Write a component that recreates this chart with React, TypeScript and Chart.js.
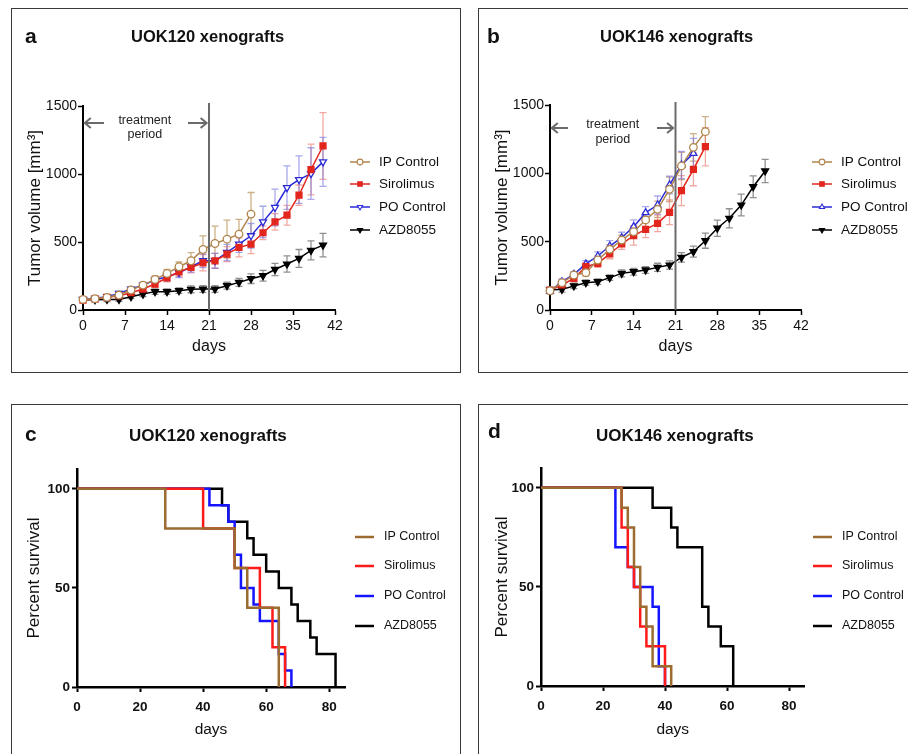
import React, { useEffect, useRef } from 'react';
import { Chart, registerables } from 'chart.js';
import { drawPoint } from 'chart.js/helpers';

Chart.register(...registerables);

const FONT = "'Liberation Sans', Arial, sans-serif";

// ---------- shared labels / ticks ----------
const seriesNames = ['IP Control', 'Sirolimus', 'PO Control', 'AZD8055'];
const growthXTicks = [0, 7, 14, 21, 28, 35, 42];
const growthYTicks = [0, 500, 1000, 1500];
const survXTicks = [0, 20, 40, 60, 80];
const survYTicks = [0, 50, 100];

// ---------- panel a : UOK120 tumour growth ----------
const aIpDays = [0, 2, 4, 6, 8, 10, 12, 14, 16, 18, 20, 22, 24, 26, 28];
const aIpVol = [78, 83, 93, 110, 147, 183, 225, 269, 318, 362, 445, 489, 521, 558, 705];
const aIpErr = [10, 10, 12, 15, 18, 20, 25, 30, 35, 60, 100, 128, 140, 108, 159];

const aSiroDays = [0, 2, 4, 6, 8, 10, 12, 14, 16, 18, 20, 22, 24, 26, 28, 30, 32, 34, 36, 38, 40];
const aSiroVol = [73, 81, 93, 105, 127, 154, 191, 237, 281, 313, 347, 362, 411, 460, 484, 568, 648, 697, 844, 1033, 1206];
const aSiroErr = [10, 10, 12, 15, 18, 20, 25, 30, 35, 40, 60, 55, 55, 70, 70, 50, 60, 73, 75, 186, 245];

const aPoDays = [0, 2, 4, 6, 8, 10, 12, 14, 16, 18, 20, 22, 24, 26, 28, 30, 32, 34, 36, 38, 40];
const aPoVol = [78, 86, 98, 122, 154, 183, 220, 245, 274, 318, 362, 362, 423, 484, 546, 648, 754, 900, 959, 1003, 1089];
const aPoErr = [10, 10, 12, 15, 18, 20, 25, 30, 35, 40, 50, 55, 60, 60, 90, 115, 135, 160, 175, 190, 180];

const aAzdDays = [0, 2, 4, 6, 8, 10, 12, 14, 16, 18, 20, 22, 24, 26, 28, 30, 32, 34, 36, 38, 40];
const aAzdVol = [75, 75, 77, 78, 98, 117, 135, 135, 142, 152, 154, 154, 179, 203, 230, 252, 298, 338, 379, 438, 477];
const aAzdErr = [15, 15, 15, 15, 15, 18, 20, 20, 20, 25, 25, 25, 25, 30, 35, 40, 45, 60, 66, 70, 86];

// ---------- panel b : UOK146 tumour growth ----------
const bIpDays = [0, 2, 4, 6, 8, 10, 12, 14, 16, 18, 20, 22, 24, 26];
const bIpVol = [141, 200, 256, 273, 366, 444, 512, 573, 659, 737, 883, 1054, 1190, 1305];
const bIpErr = [20, 20, 20, 25, 30, 35, 35, 40, 50, 60, 90, 100, 100, 110];

const bSiroDays = [0, 2, 4, 6, 8, 10, 12, 14, 16, 18, 20, 22, 24, 26];
const bSiroVol = [146, 183, 232, 317, 342, 410, 483, 544, 590, 634, 715, 873, 1029, 1195];
const bSiroErr = [20, 20, 25, 30, 30, 35, 40, 70, 60, 60, 90, 110, 120, 140];

const bPoDays = [0, 2, 4, 6, 8, 10, 12, 14, 16, 18, 20, 22, 24];
const bPoVol = [139, 207, 261, 337, 395, 468, 529, 610, 712, 768, 915, 1061, 1146];
const bPoErr = [20, 20, 20, 25, 30, 40, 40, 50, 45, 66, 65, 100, 110];

const bAzdDays = [0, 2, 4, 6, 8, 10, 12, 14, 16, 18, 20, 22, 24, 26, 28, 30, 32, 34, 36];
const bAzdVol = [146, 151, 176, 200, 207, 237, 268, 280, 293, 312, 329, 385, 427, 507, 598, 671, 768, 902, 1017];
const bAzdErr = [20, 20, 20, 20, 20, 20, 25, 25, 25, 30, 30, 35, 40, 55, 60, 70, 80, 80, 85];

// ---------- panel c : UOK120 survival ----------
const cIpT = [0, 28, 50, 54, 64];
const cIpS = [100, 80, 60, 40, 0];
const cSiroT = [0, 40, 50, 58, 62, 66];
const cSiroS = [100, 80, 60, 40, 20, 0];
const cPoT = [0, 42, 48, 50, 52, 56, 58, 64, 66, 68];
const cPoS = [100, 91.67, 83.33, 66.67, 50, 41.67, 33.33, 16.67, 8.33, 0];
const cAzdT = [0, 46, 48, 54, 56, 60, 64, 68, 70, 74, 76, 82];
const cAzdS = [100, 91.67, 83.33, 75, 66.67, 58.33, 50, 41.67, 33.33, 25, 16.67, 0];

// ---------- panel d : UOK146 survival ----------
const dIpT = [0, 26, 28, 30, 32, 34, 36, 42];
const dIpS = [100, 90, 80, 60, 40, 30, 10, 0];
const dSiroT = [0, 26, 28, 30, 32, 34, 40];
const dSiroS = [100, 80, 60, 50, 30, 20, 0];
const dPoT = [0, 24, 28, 30, 36, 38, 40];
const dPoS = [100, 70, 60, 50, 40, 10, 0];
const dAzdT = [0, 36, 42, 44, 52, 54, 58, 62];
const dAzdS = [100, 90, 80, 70, 40, 30, 20, 0];

// ---------- styles ----------
const GROWTH_COLORS = ['#b0844c', '#e2261d', '#2a2ad6', '#000000'];
const ERR_COLORS = ['rgba(190,150,95,0.75)', 'rgba(232,110,100,0.6)', 'rgba(110,110,225,0.6)', 'rgba(70,70,70,0.6)'];
const SURV_COLORS = ['#9c6b30', '#ff1a1a', '#1414ff', '#000000'];

const pts = (xs: number[], ys: number[]) => xs.map((x, i) => ({ x, y: ys[i] }));
const plain = (v: any) => String(v);

type Box = { W: number; H: number; L: number; R: number; T: number; B: number; yTitleX: number; xTitleY: number };

function frame(box: Box, yTitleSize: number, xTitleSize: number) {
  const ylh = yTitleSize * 1.2;
  const xlh = xTitleSize * 1.2;
  const padLeft = box.yTitleX - ylh / 2;
  const xBottom = box.xTitleY + xlh / 2;
  return {
    padding: { left: padLeft, top: box.T, right: box.W - box.R, bottom: box.H - xBottom },
    yWidth: box.L - padLeft,
    xHeight: xBottom - box.B,
  };
}

function errorBarPlugin(errs: number[][]) {
  return {
    id: 'errorBars',
    beforeDatasetsDraw(chart: any) {
      const ctx = chart.ctx;
      const ys = chart.scales.y;
      chart.data.datasets.forEach((ds: any, i: number) => {
        const e = errs[i];
        const meta = chart.getDatasetMeta(i);
        ctx.save();
        ctx.strokeStyle = ERR_COLORS[i];
        ctx.lineWidth = 1.3;
        meta.data.forEach((pt: any, j: number) => {
          const v = ds.data[j].y;
          const yt = ys.getPixelForValue(v + e[j]);
          const yb = ys.getPixelForValue(Math.max(0, v - e[j]));
          ctx.beginPath();
          ctx.moveTo(pt.x, yt); ctx.lineTo(pt.x, yb);
          ctx.moveTo(pt.x - 3.5, yt); ctx.lineTo(pt.x + 3.5, yt);
          ctx.moveTo(pt.x - 3.5, yb); ctx.lineTo(pt.x + 3.5, yb);
          ctx.stroke();
        });
        ctx.restore();
      });
    },
  };
}

type Treat = { lineDay: number; arrowY: number; left: [number, number]; right: [number, number]; textDay: number; t1: number; t2: number };

function treatmentPlugin(o: Treat) {
  return {
    id: 'treatment',
    afterDatasetsDraw(chart: any) {
      const { ctx, chartArea } = chart;
      const xs = chart.scales.x, ys = chart.scales.y;
      ctx.save();
      ctx.strokeStyle = '#6a6a6a';
      ctx.lineWidth = 2;
      const lx = xs.getPixelForValue(o.lineDay);
      ctx.beginPath();
      ctx.moveTo(lx, chartArea.top - 3);
      ctx.lineTo(lx, chartArea.bottom);
      ctx.stroke();
      const ay = ys.getPixelForValue(o.arrowY);
      const arrow = (from: number, to: number) => {
        const x0 = xs.getPixelForValue(from), x1 = xs.getPixelForValue(to);
        const d = Math.sign(x1 - x0);
        ctx.beginPath();
        ctx.moveTo(x0, ay); ctx.lineTo(x1, ay);
        ctx.moveTo(x1 - d * 6, ay - 5); ctx.lineTo(x1, ay); ctx.lineTo(x1 - d * 6, ay + 5);
        ctx.stroke();
      };
      arrow(o.left[0], o.left[1]);
      arrow(o.right[0], o.right[1]);
      ctx.fillStyle = '#222';
      ctx.font = `12.5px ${FONT}`;
      ctx.textAlign = 'center';
      ctx.textBaseline = 'middle';
      const tx = xs.getPixelForValue(o.textDay);
      ctx.fillText('treatment', tx, ys.getPixelForValue(o.t1));
      ctx.fillText('period', tx, ys.getPixelForValue(o.t2));
      ctx.restore();
    },
  };
}

type Leg = { x0: number; x1: number; tx: number; rows: number[]; font: string; lineWidth: number; markers: boolean };

function legendPlugin(o: Leg) {
  return {
    id: 'sideLegend',
    afterDraw(chart: any) {
      const ctx = chart.ctx;
      chart.data.datasets.forEach((ds: any, i: number) => {
        const y = o.rows[i];
        ctx.save();
        ctx.strokeStyle = ds.borderColor;
        ctx.lineWidth = o.lineWidth;
        ctx.beginPath();
        ctx.moveTo(o.x0, y); ctx.lineTo(o.x1, y);
        ctx.stroke();
        if (o.markers) {
          ctx.fillStyle = ds.pointBackgroundColor;
          ctx.strokeStyle = ds.pointBorderColor;
          ctx.lineWidth = 1.1;
          drawPoint(ctx, { pointStyle: ds.pointStyle, rotation: ds.pointRotation || 0, radius: ds.pointRadius * 0.75, borderWidth: 1.1 } as any, (o.x0 + o.x1) / 2, y);
        }
        ctx.fillStyle = '#111';
        ctx.font = o.font;
        ctx.textAlign = 'left';
        ctx.textBaseline = 'middle';
        ctx.fillText(ds.label, o.tx, y);
        ctx.restore();
      });
    },
  };
}

function growthConfig(box: Box, series: { days: number[]; vol: number[] }[], errs: number[][], poUp: boolean, treat: Treat, leg: Leg) {
  const f = frame(box, 17, 16);
  const markers = [
    { pointStyle: 'circle', pointRadius: 3.8, pointRotation: 0, fill: '#ffffff' },
    { pointStyle: 'rect', pointRadius: 4.2, pointRotation: 0, fill: GROWTH_COLORS[1] },
    { pointStyle: 'triangle', pointRadius: 4, pointRotation: poUp ? 0 : 180, fill: '#ffffff' },
    { pointStyle: 'triangle', pointRadius: 4, pointRotation: 180, fill: '#000000' },
  ];
  return {
    type: 'line',
    data: {
      datasets: series.map((s, i) => ({
        label: seriesNames[i],
        data: pts(s.days, s.vol),
        borderColor: GROWTH_COLORS[i],
        borderWidth: 1.5,
        pointStyle: markers[i].pointStyle,
        pointRadius: markers[i].pointRadius,
        pointRotation: markers[i].pointRotation,
        pointBackgroundColor: markers[i].fill,
        pointBorderColor: GROWTH_COLORS[i],
        pointBorderWidth: 1.3,
        tension: 0,
        clip: false,
      })),
    },
    options: {
      animation: false,
      responsive: false,
      devicePixelRatio: 1,
      layout: { padding: f.padding },
      plugins: { legend: { display: false }, tooltip: { enabled: false } },
      scales: {
        x: {
          type: 'linear', min: 0, max: 42,
          afterBuildTicks: (ax: any) => { ax.ticks = growthXTicks.map((v) => ({ value: v })); },
          afterFit: (ax: any) => { ax.height = f.xHeight; },
          grid: { display: true, drawOnChartArea: false, drawTicks: true, tickLength: 5, tickWidth: 1.5, tickColor: '#000' },
          border: { display: true, color: '#000', width: 2 },
          ticks: { color: '#111', font: { family: FONT, size: 14 }, padding: 3, maxRotation: 0, autoSkip: false, callback: plain },
          title: { display: true, text: 'days', color: '#111', font: { family: FONT, size: 16 }, padding: 0 },
        },
        y: {
          type: 'linear', min: 0, max: 1500,
          afterBuildTicks: (ax: any) => { ax.ticks = growthYTicks.map((v) => ({ value: v })); },
          afterFit: (ax: any) => { ax.width = f.yWidth; },
          grid: { display: true, drawOnChartArea: false, drawTicks: true, tickLength: 5, tickWidth: 1.5, tickColor: '#000' },
          border: { display: true, color: '#000', width: 2 },
          ticks: { color: '#111', font: { family: FONT, size: 14 }, padding: 1, callback: plain },
          title: { display: true, text: 'Tumor volume [mm³]', color: '#111', font: { family: FONT, size: 17 }, padding: 0 },
        },
      },
    },
    plugins: [errorBarPlugin(errs), treatmentPlugin(treat), legendPlugin(leg)],
  };
}

function survivalConfig(box: Box, series: { t: number[]; s: number[] }[], leg: Leg) {
  const f = frame(box, 17, 15.5);
  return {
    type: 'line',
    data: {
      datasets: series.map((s, i) => ({
        label: seriesNames[i],
        data: pts(s.t, s.s),
        borderColor: SURV_COLORS[i],
        borderWidth: 2.5,
        pointRadius: 0,
        stepped: 'before',
        borderJoinStyle: 'miter',
        clip: false,
      })),
    },
    options: {
      animation: false,
      responsive: false,
      devicePixelRatio: 1,
      layout: { padding: f.padding },
      plugins: { legend: { display: false }, tooltip: { enabled: false } },
      scales: {
        x: {
          type: 'linear', min: 0, max: 85,
          afterBuildTicks: (ax: any) => { ax.ticks = survXTicks.map((v) => ({ value: v })); },
          afterFit: (ax: any) => { ax.height = f.xHeight; },
          grid: { display: true, drawOnChartArea: false, drawTicks: true, tickLength: 5, tickWidth: 2, tickColor: '#000' },
          border: { display: true, color: '#000', width: 2.5 },
          ticks: { color: '#111', font: { family: FONT, size: 13.5, weight: 'bold' }, padding: 7, maxRotation: 0, autoSkip: false, callback: plain },
          title: { display: true, text: 'days', color: '#111', font: { family: FONT, size: 15.5 }, padding: 0 },
        },
        y: {
          type: 'linear', min: 0, max: 110,
          afterBuildTicks: (ax: any) => { ax.ticks = survYTicks.map((v) => ({ value: v })); },
          afterFit: (ax: any) => { ax.width = f.yWidth; },
          grid: { display: true, drawOnChartArea: false, drawTicks: true, tickLength: 5, tickWidth: 2, tickColor: '#000' },
          border: { display: true, color: '#000', width: 2.5 },
          ticks: { color: '#111', font: { family: FONT, size: 13.5, weight: 'bold' }, padding: 2, callback: plain },
          title: { display: true, text: 'Percent survival', color: '#111', font: { family: FONT, size: 17 }, padding: 0 },
        },
      },
    },
    plugins: [legendPlugin(leg)],
  };
}

function ChartCanvas({ left, top, width, height, make }: { left: number; top: number; width: number; height: number; make: () => any }) {
  const ref = useRef<HTMLCanvasElement>(null);
  useEffect(() => {
    const chart = new Chart(ref.current as HTMLCanvasElement, make());
    return () => chart.destroy();
  }, []);
  return <canvas ref={ref} width={width} height={height} style={{ position: 'absolute', left, top, width, height }} />;
}

const boxStyle = (left: number, top: number, width: number, height: number): React.CSSProperties => ({
  position: 'absolute', left, top, width, height, border: '1px solid #3a3a3a', boxSizing: 'content-box',
});

const textStyle = (left: number, baseline: number, size: number): React.CSSProperties => ({
  position: 'absolute', left, top: baseline - 0.8465 * size, fontFamily: FONT, fontWeight: 700,
  fontSize: size, lineHeight: 1, whiteSpace: 'nowrap', color: '#111',
});

export default function App() {
  const boxA: Box = { W: 448, H: 363, L: 71, R: 323, T: 97, B: 301, yTitleX: 23, xTitleY: 338 };
  const boxB: Box = { W: 429, H: 363, L: 71, R: 322, T: 96, B: 301, yTitleX: 23, xTitleY: 338 };
  const boxC: Box = { W: 448, H: 349, L: 65, R: 333, T: 64, B: 282, yTitleX: 22, xTitleY: 325 };
  const boxD: Box = { W: 429, H: 349, L: 62, R: 325.5, T: 63, B: 281, yTitleX: 23, xTitleY: 325 };

  const legAB = (x0: number): Leg => ({ x0, x1: x0 + 20, tx: x0 + 29, rows: [153, 175, 198, 221], font: `13.5px ${FONT}`, lineWidth: 1.5, markers: true });
  const legCD = (x0: number): Leg => ({ x0, x1: x0 + 19, tx: x0 + 29, rows: [132, 161, 191, 221], font: `12.5px ${FONT}`, lineWidth: 2.5, markers: false });

  return (
    <div style={{ position: 'absolute', left: 0, top: 0, width: 908, height: 754, overflow: 'hidden', background: '#fff' }}>
      <div style={boxStyle(11, 8, 448, 363)} />
      <div style={boxStyle(478, 8, 500, 363)} />
      <div style={boxStyle(11, 404, 448, 400)} />
      <div style={boxStyle(478, 404, 500, 400)} />

      <ChartCanvas left={12} top={9} width={448} height={363} make={() => growthConfig(
        boxA,
        [{ days: aIpDays, vol: aIpVol }, { days: aSiroDays, vol: aSiroVol }, { days: aPoDays, vol: aPoVol }, { days: aAzdDays, vol: aAzdVol }],
        [aIpErr, aSiroErr, aPoErr, aAzdErr], false,
        { lineDay: 21, arrowY: 1375, left: [3.5, 0.3], right: [17.5, 20.6], textDay: 10.3, t1: 1392, t2: 1288 },
        legAB(338),
      )} />
      <ChartCanvas left={479} top={9} width={429} height={363} make={() => growthConfig(
        boxB,
        [{ days: bIpDays, vol: bIpVol }, { days: bSiroDays, vol: bSiroVol }, { days: bPoDays, vol: bPoVol }, { days: bAzdDays, vol: bAzdVol }],
        [bIpErr, bSiroErr, bPoErr, bAzdErr], true,
        { lineDay: 21, arrowY: 1331, left: [3.0, 0.3], right: [17.9, 20.6], textDay: 10.5, t1: 1360, t2: 1245 },
        legAB(333),
      )} />
      <ChartCanvas left={12} top={405} width={448} height={349} make={() => survivalConfig(
        boxC,
        [{ t: cIpT, s: cIpS }, { t: cSiroT, s: cSiroS }, { t: cPoT, s: cPoS }, { t: cAzdT, s: cAzdS }],
        legCD(343),
      )} />
      <ChartCanvas left={479} top={405} width={429} height={349} make={() => survivalConfig(
        boxD,
        [{ t: dIpT, s: dIpS }, { t: dSiroT, s: dSiroS }, { t: dPoT, s: dPoS }, { t: dAzdT, s: dAzdS }],
        legCD(334),
      )} />

      <div style={textStyle(25, 43, 21)}>a</div>
      <div style={textStyle(131, 42, 16.5)}>UOK120 xenografts</div>
      <div style={textStyle(487, 43, 21)}>b</div>
      <div style={textStyle(600, 42, 16.5)}>UOK146 xenografts</div>
      <div style={textStyle(25, 441, 21)}>c</div>
      <div style={textStyle(129, 441, 17)}>UOK120 xenografts</div>
      <div style={textStyle(488, 438, 21)}>d</div>
      <div style={textStyle(596, 441, 17)}>UOK146 xenografts</div>
    </div>
  );
}
